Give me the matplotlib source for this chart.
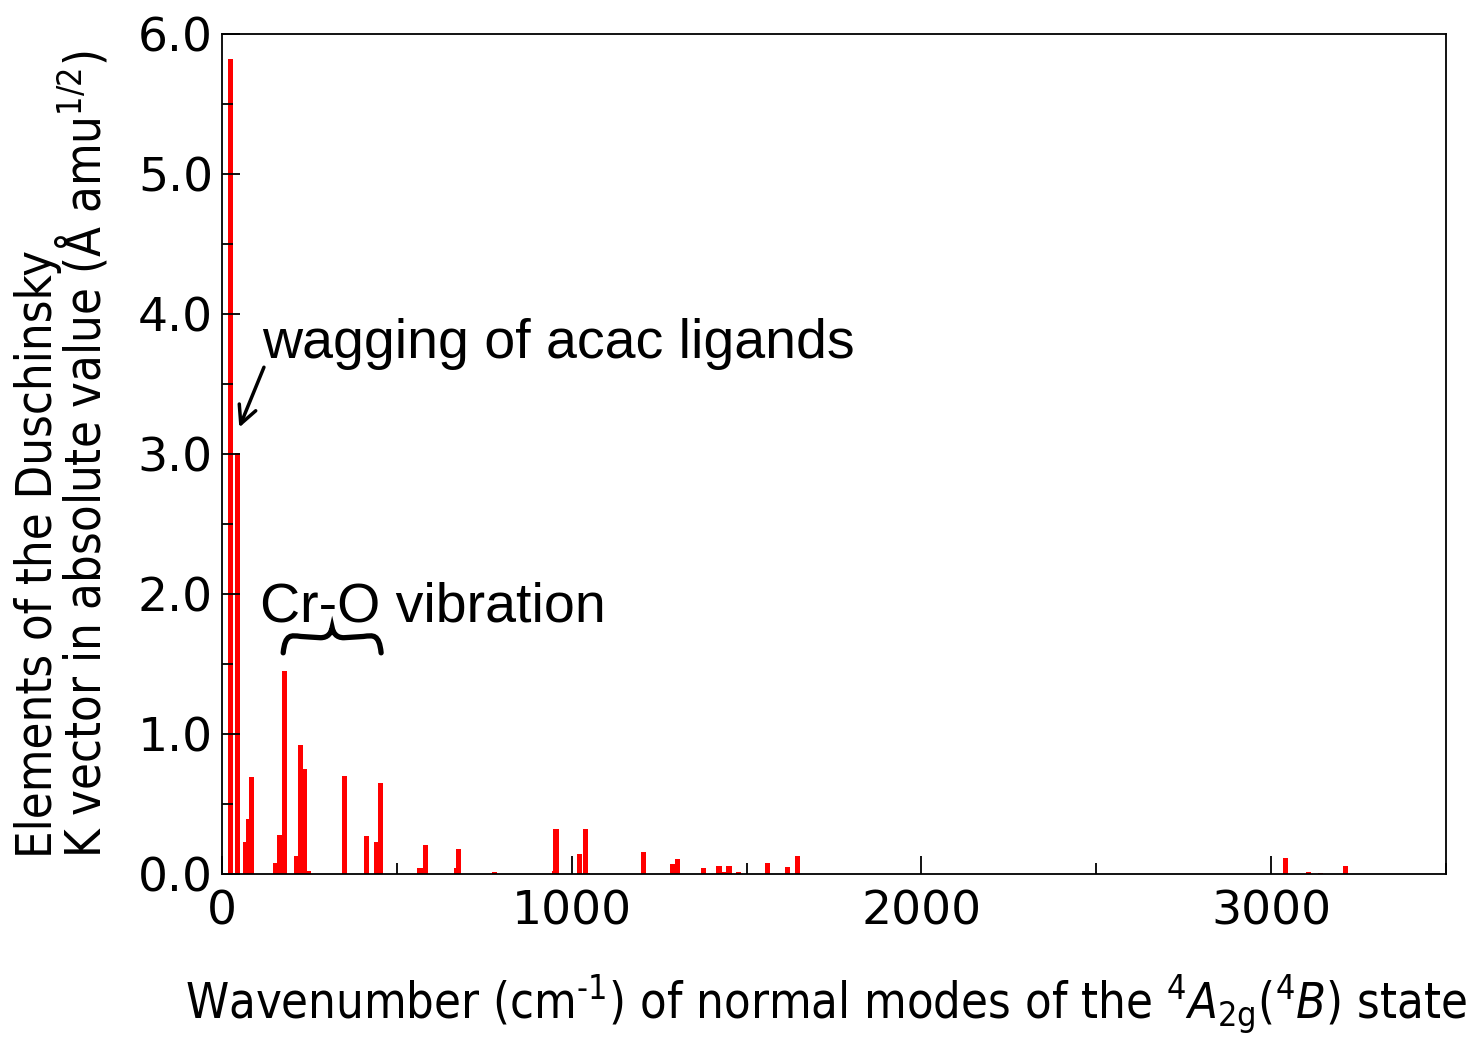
import matplotlib

matplotlib.use("Agg")
import matplotlib.pyplot as plt
from matplotlib.path import Path
from matplotlib.patches import PathPatch
from matplotlib.ticker import MultipleLocator, FormatStrFormatter

# Duschinsky K-vector elements (absolute value) per normal mode
wavenumber_cm = [24, 45, 69, 77, 84, 154, 164.5, 178, 213, 224.6, 235.6, 248,
                 350.5, 414, 443, 452.6, 566.5, 582, 671, 676, 780, 950, 955,
                 1023, 1039.5, 1046, 1204.6, 1290, 1303, 1376, 1421.5, 1436,
                 1450, 1477, 1559, 1617, 1645, 3040, 3107, 3141, 3212]
k_element = [5.82, 3.01, 0.23, 0.39, 0.69, 0.08, 0.28, 1.45, 0.13, 0.92, 0.75,
             0.025, 0.70, 0.27, 0.23, 0.65, 0.045, 0.205, 0.04, 0.18, 0.012,
             0.02, 0.32, 0.14, 0.32, 0.01, 0.157, 0.07, 0.105, 0.045, 0.057,
             0.015, 0.057, 0.017, 0.08, 0.05, 0.13, 0.117, 0.017, 0.008, 0.055]

BAR_WIDTH = 15
LABEL_FONT = dict(family="DejaVu Sans", stretch="condensed", size=35)
NOTE_FONT = dict(family="Liberation Sans", size=40)

plt.rcParams["mathtext.fontset"] = "custom"
plt.rcParams["mathtext.rm"] = "DejaVu Sans:stretch=condensed"
plt.rcParams["mathtext.it"] = "DejaVu Sans:style=italic:stretch=condensed"


def brace(ax, x0, x1, y_end, y_tip, lw=3.8):
    """Curly brace opening downward, cusp up, in data coords."""
    w = x1 - x0
    h = y_tip - y_end
    xm = 0.5 * (x0 + x1)
    ys = y_end + 0.6 * h
    verts = [
        (x0, y_end), (x0 + 0.02 * w, ys + 0.15 * h), (x0 + 0.08 * w, ys + 0.1 * h),
        (x0 + 0.18 * w, ys + 0.05 * h),
        (xm - 0.12 * w, ys),
        (xm - 0.04 * w, ys), (xm - 0.01 * w, ys + 0.2 * h), (xm, y_tip),
        (xm + 0.01 * w, ys + 0.2 * h), (xm + 0.04 * w, ys), (xm + 0.12 * w, ys),
        (x1 - 0.18 * w, ys + 0.05 * h),
        (x1 - 0.08 * w, ys + 0.1 * h), (x1 - 0.02 * w, ys + 0.15 * h), (x1, y_end),
    ]
    codes = [Path.MOVETO, Path.CURVE4, Path.CURVE4, Path.CURVE4,
             Path.LINETO,
             Path.CURVE4, Path.CURVE4, Path.CURVE4,
             Path.CURVE4, Path.CURVE4, Path.CURVE4,
             Path.LINETO,
             Path.CURVE4, Path.CURVE4, Path.CURVE4]
    ax.add_patch(PathPatch(Path(verts, codes), fill=False, lw=lw,
                           color="black", capstyle="round", clip_on=False))


fig = plt.figure(figsize=(14.74, 10.47), dpi=100)
ax = fig.add_axes([0.1506, 0.1652, 0.9810 - 0.1506, 0.9675 - 0.1652])

ax.bar(wavenumber_cm, k_element, width=BAR_WIDTH, color="#ff0000",
       linewidth=0)

ax.set_xlim(0, 3500)
ax.set_ylim(0, 6.0)
ax.xaxis.set_major_locator(MultipleLocator(1000))
ax.xaxis.set_minor_locator(MultipleLocator(500))
ax.yaxis.set_major_locator(MultipleLocator(1.0))
ax.yaxis.set_minor_locator(MultipleLocator(0.5))
ax.yaxis.set_major_formatter(FormatStrFormatter("%.1f"))
ax.tick_params(which="both", direction="in", top=False, right=False,
               labelsize=34, width=1.3)
ax.tick_params(axis="y", pad=6.5)
ax.tick_params(axis="x", pad=11)
ax.tick_params(which="major", length=13)
ax.tick_params(which="minor", length=8)
for s in ax.spines.values():
    s.set_linewidth(1.3)

ax.set_xlabel(r"Wavenumber (cm$^{\text{-}1}$) of normal modes of the "
              r"$^{4}A_{\mathrm{2g}}$($^{4}B$) state", **LABEL_FONT)
ax.xaxis.set_label_coords(0.4935, -0.118)
ax.set_ylabel("Elements of the Duschinsky\n"
              r"K vector in absolute value ($\mathrm{\AA}$ amu$^{1/2}$)",
              multialignment="left", linespacing=0.85, **LABEL_FONT)
ax.yaxis.set_label_coords(-0.0907, 0.5)

ax.text(114, 3.686, "wagging of acac ligands", ha="left", va="baseline",
        **NOTE_FONT)
ax.annotate("", xy=(49.5, 3.19), xytext=(120, 3.62),
            arrowprops=dict(arrowstyle="->", lw=2.5, color="black",
                            mutation_scale=32, shrinkA=0, shrinkB=0))

ax.text(109, 1.807, "Cr-O vibration", ha="left", va="baseline", **NOTE_FONT)
brace(ax, 175, 455, 1.58, 1.76)

fig.savefig("out.png", dpi=100)
